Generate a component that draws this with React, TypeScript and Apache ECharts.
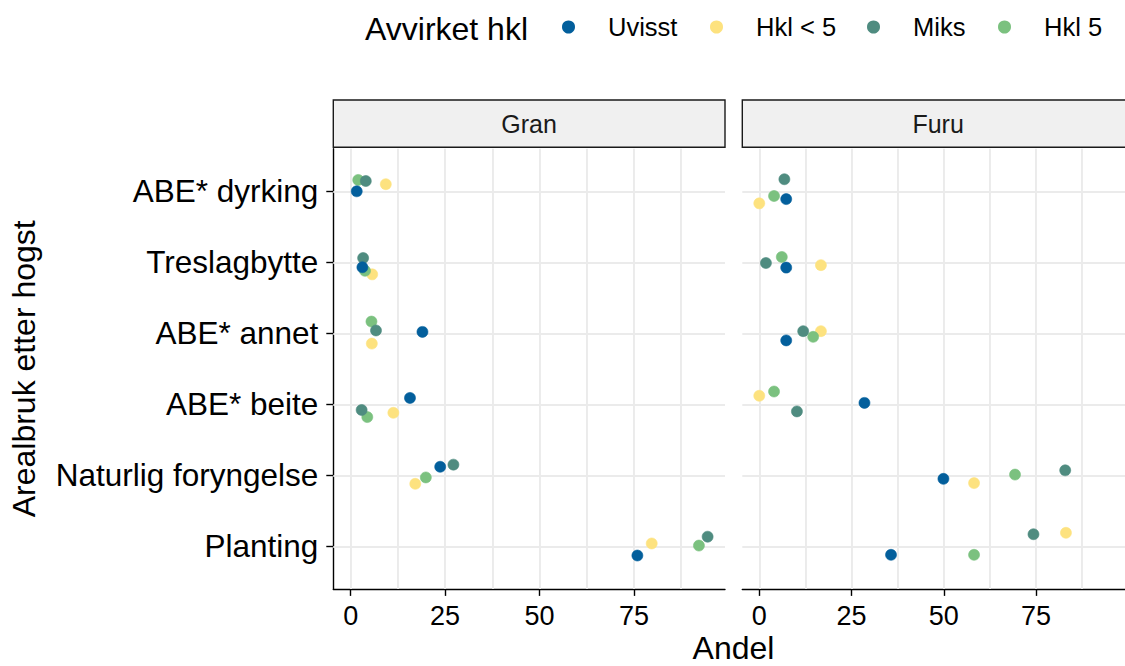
import React, { useEffect, useRef } from "react";
import * as echarts from "echarts";

const categories = ["ABE* dyrking", "Treslagbytte", "ABE* annet", "ABE* beite", "Naturlig foryngelse", "Planting"];
const panels = ["Gran", "Furu"];
const groups = ["Uvisst", "Hkl < 5", "Miks", "Hkl 5"];
const groupColors = ["#035f9c", "#fde27f", "#4f8c80", "#7bc17f"];
const xTicks = [0, 25, 50, 75];
const xGrid = [0, 12.5, 25, 37.5, 50, 62.5, 75, 87.5];

// Gran values (Andel) per category
const granUvisst = [1.6, 3.1, 19.0, 15.7, 23.7, 75.9];
const granHkl4 = [9.3, 5.7, 5.6, 11.3, 17.1, 79.7];
const granMiks = [4.0, 3.3, 6.7, 2.9, 27.2, 94.5];
const granHkl5 = [2.0, 3.8, 5.5, 4.4, 19.9, 92.2];
// Furu values
const furuUvisst = [7.3, 7.3, 7.3, 28.5, 49.9, 35.7];
const furuHkl4 = [0.0, 16.7, 16.7, 0.0, 58.2, 83.1];
const furuMiks = [6.8, 1.8, 11.9, 10.2, 82.9, 74.3];
const furuHkl5 = [4.0, 6.1, 14.6, 4.0, 69.3, 58.2];

// vertical jitter (in category units)
const granUvisstJ = [0.0, 0.07, -0.02, -0.09, -0.12, 0.13];
const granHkl4J = [-0.1, 0.17, 0.145, 0.12, 0.12, -0.04];
const granMiksJ = [-0.145, -0.06, -0.04, 0.08, -0.15, -0.135];
const granHkl5J = [-0.16, 0.12, -0.165, 0.18, 0.03, -0.01];
const furuUvisstJ = [0.11, 0.075, 0.1, -0.02, 0.05, 0.12];
const furuHkl4J = [0.17, 0.04, -0.03, -0.12, 0.11, -0.19];
const furuMiksJ = [-0.17, 0.01, -0.03, 0.1, -0.07, -0.17];
const furuHkl5J = [0.066, -0.075, 0.05, -0.18, -0.01, 0.12];

const FONT = "Liberation Sans, Arial, Helvetica, sans-serif";

export default function App() {
  const ref = useRef<HTMLDivElement>(null);
  useEffect(() => {
    document.body.style.margin = "0";
    const chart = echarts.init(ref.current!, undefined, { renderer: "svg" });

    const panelLeft = [333.3, 742.3];
    const panelW = 391.7;
    const top = 148.7;
    const height = 440.2;

    const seriesDefs = [
      // drawing order: Hkl < 5, Hkl 5, Miks, Uvisst
      { g: 1, vals: [granHkl4, furuHkl4], jit: [granHkl4J, furuHkl4J] },
      { g: 3, vals: [granHkl5, furuHkl5], jit: [granHkl5J, furuHkl5J] },
      { g: 2, vals: [granMiks, furuMiks], jit: [granMiksJ, furuMiksJ] },
      { g: 0, vals: [granUvisst, furuUvisst], jit: [granUvisstJ, furuUvisstJ] },
    ];

    const series: any[] = [];
    // grid lines
    for (let p = 0; p < 2; p++) {
      series.push({
        type: "scatter",
        xAxisIndex: p,
        yAxisIndex: p,
        data: [],
        silent: true,
        z: 1,
        markLine: {
          silent: true,
          z: 1,
          symbol: ["none", "none"],
          label: { show: false },
          lineStyle: { color: "#ebebeb", width: 1.9, type: "solid" },
          data: [
            ...xGrid.map((v) => ({ xAxis: v })),
            ...categories.map((_, i) => ({ yAxis: i })),
          ],
        },
      });
    }
    for (const d of seriesDefs) {
      for (let p = 0; p < 2; p++) {
        series.push({
          type: "scatter",
          name: groups[d.g],
          xAxisIndex: p,
          yAxisIndex: p,
          symbol: "circle",
          symbolSize: 11,
          z: 3,
          itemStyle: { color: groupColors[d.g], opacity: 1, borderColor: groupColors[d.g], borderWidth: 0.6 },
          data: d.vals[p].map((v, i) => [v, i + d.jit[p][i]]),
        });
      }
    }

    const legendX = [567.5, 715.5, 872.5, 1003.5];
    const legends = groups.map((g, i) => ({
      data: [{ name: g, icon: "circle" }],
      left: legendX[i] - 5.5,
      top: 29 - 15,
      itemWidth: 11,
      itemHeight: 11,
      itemGap: 0,
      padding: 0,
      textStyle: { fontFamily: FONT, fontSize: 25.5, color: "#000", padding: [0, 0, 0, 29] },
      selectedMode: false,
    }));

    const graphic: any[] = [];
    for (let p = 0; p < 2; p++) {
      graphic.push({
        type: "rect",
        shape: { x: panelLeft[p], y: 100, width: panelW, height: 47.3 },
        style: { fill: "#f0f0f0", stroke: "#1a1a1a", lineWidth: 1.4 },
        z: 10,
      });
      graphic.push({
        type: "text",
        x: panelLeft[p] + panelW / 2,
        y: 124,
        style: {
          text: panels[p],
          font: `25px ${FONT}`,
          fill: "#1a1a1a",
          textAlign: "center",
          textVerticalAlign: "middle",
        },
        z: 11,
      });
    }
    graphic.push({
      type: "text",
      x: 733.5,
      y: 648,
      style: { text: "Andel", font: `32px ${FONT}`, fill: "#000", textAlign: "center", textVerticalAlign: "middle" },
    });
    graphic.push({
      type: "text",
      x: 365,
      y: 29,
      style: { text: "Avvirket hkl", font: `32px ${FONT}`, fill: "#000", textAlign: "left", textVerticalAlign: "middle" },
    });

    const xAxis = [0, 1].map((p) => ({
      type: "value",
      gridIndex: p,
      min: -4.6,
      max: 99.1,
      splitLine: { show: false },
      axisLine: { show: true, onZero: false, lineStyle: { color: "#000", width: 1.4 } },
      axisTick: { show: true, length: 7, customValues: xTicks, lineStyle: { color: "#000", width: 1.4 } },
      axisLabel: {
        customValues: xTicks,
        margin: 14,
        fontFamily: FONT,
        fontSize: 27,
        color: "#000",
        showMinLabel: true,
        showMaxLabel: true,
      },
    }));
    const yAxis = [0, 1].map((p) => ({
      type: "value",
      gridIndex: p,
      inverse: true,
      min: -0.6,
      max: 5.6,
      splitLine: { show: false },
      name: p === 0 ? "Arealbruk etter hogst" : "",
      nameLocation: "middle",
      nameRotate: 90,
      nameGap: 293,
      nameTextStyle: { fontFamily: FONT, fontSize: 32, color: "#000" },
      axisLine: { show: p === 0, onZero: false, lineStyle: { color: "#000", width: 1.4 } },
      axisTick: {
        show: p === 0,
        length: 7,
        customValues: [0, 1, 2, 3, 4, 5],
        lineStyle: { color: "#000", width: 1.4 },
      },
      axisLabel: {
        show: p === 0,
        customValues: [0, 1, 2, 3, 4, 5],
        formatter: (v: number) => categories[Math.round(v)] ?? "",
        margin: 15,
        fontFamily: FONT,
        fontSize: 31.5,
        color: "#000",
      },
    }));

    chart.setOption({
      animation: false,
      backgroundColor: "#fff",
      grid: [0, 1].map((p) => ({
        left: panelLeft[p],
        top,
        width: panelW,
        height,
        containLabel: false,
      })),
      xAxis,
      yAxis,
      legend: legends,
      series,
      graphic,
    });
    return () => chart.dispose();
  }, []);
  return <div ref={ref} style={{ width: 1125, height: 666 }} />;
}
